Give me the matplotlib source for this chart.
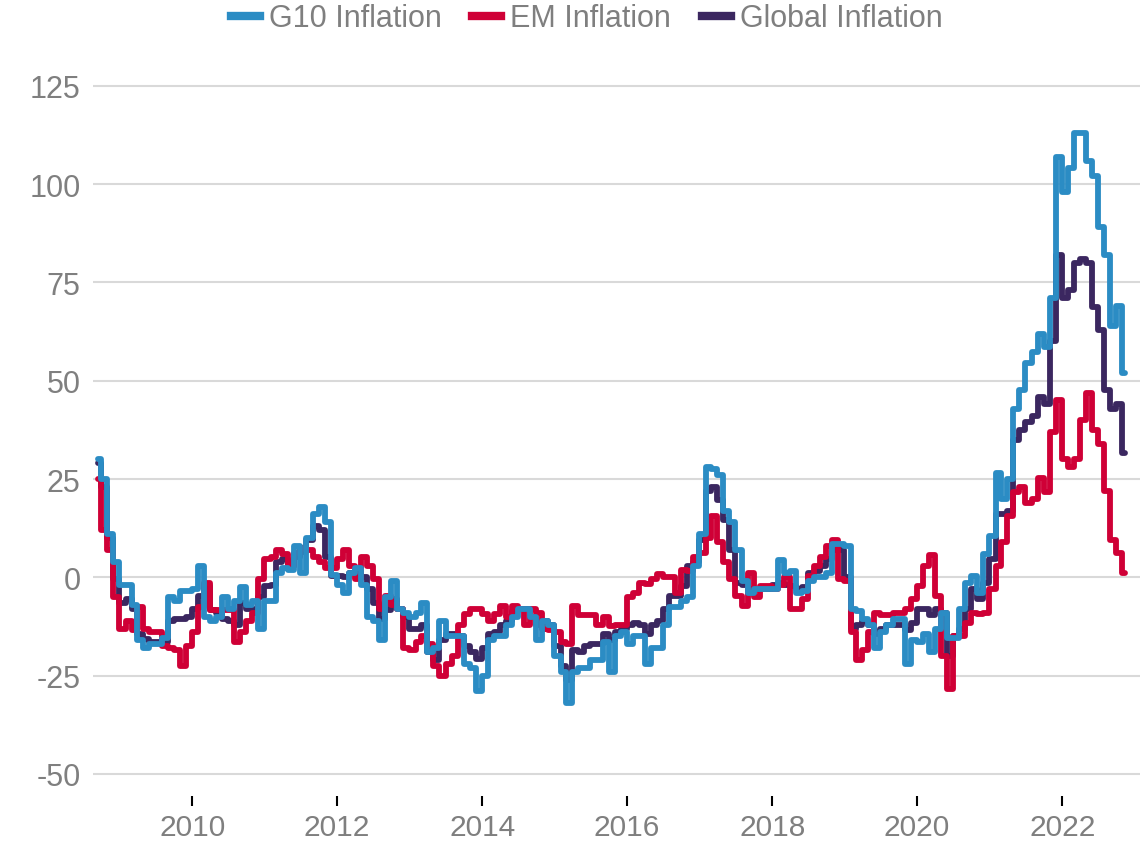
import matplotlib.pyplot as plt
import matplotlib.dates as mdates
from matplotlib.lines import Line2D
import pandas as pd

# monthly readings, Sep 2008 .. Nov 2022
start_month = '2008-09-01'
end_month = '2022-11-01'

g10 = [30, 25, 11, 4,
       -2, -2, -7, -16, -18, -17, -17, -15.5, -5, -6, -3.5, -3.5,
       -3, 3, -10, -11, -10, -5, -8, -6, -2.5, -7, -6, -13,
       -6, -6, 1, 2.5, 2, 8, 1, 10, 16, 18, 14, 0.5,
       -2, -4, 1, 2.5, -2, -10, -11, -16, -5, -1, -8, -9,
       -10, -9, -6.5, -19, -18, -11, -15, -15, -15, -22, -23, -29,
       -25, -16, -15, -15, -12, -10, -8, -8, -10, -16, -11, -12,
       -20, -24, -32, -24, -23, -23, -21, -21, -16.5, -24, -15, -14,
       -17, -15, -15, -22, -18, -18, -12, -7.5, -7.5, -6, -5, 3,
       11, 28, 27.5, 26, 17, 14, 7, -1, -4, -3, -3, -3,
       -3, 4.5, 1, 1.5, -4, -3.5, -1, 0, 0, 1, 8.5, 8.5,
       8, -8, -8.5, -10.5, -12, -18, -14, -12, -10.5, -10.5, -22, -16,
       -16.5, -14.5, -19, -13, -9, -15.5, -15.5, -8, -1.3, 0.3, -4, 6,
       10.4, 26.6, 20, 25, 42.7, 47.7, 54.6, 57.4, 62, 58.6, 71, 107,
       98, 104, 113, 113, 106, 102, 89, 82, 64, 69, 52]

em = [25, 12, 7, -5,
      -13, -11, -13.5, -7.5, -13, -14, -14, -17.5, -18, -18.5, -22.5, -17.5,
      -14, -7.5, -1.3, -8.4, -8.4, -8.4, -8.4, -16.5, -14, -11, -9, -0.5,
      4.6, 5.3, 7, 6, 3, 6.3, 7.4, 7, 5.3, 3.8, 2.5, 2.5,
      4.6, 7, 2.8, -0.5, 5.3, 2.8, -0.5, -8, -4.8, -7, -8, -18,
      -18.5, -16.5, -15, -17, -22.6, -25, -22, -20, -12, -9.4, -8, -8,
      -9.4, -11, -9.4, -7.4, -10, -7.4, -8, -12, -8, -9, -13, -13.5,
      -14, -16.5, -17, -7.4, -9.5, -9.5, -9.5, -12, -10, -12.4, -12, -12,
      -5, -3.9, -1.3, -1.8, -0.5, 0.8, 0, 0, -3.9, 1.8, 1.5, 5.3,
      6.3, 10, 15.5, 8.9, 3.8, -0.5, -4.8, -7.4, 1.2, -5, -2.3, -2.3,
      -3, -2, 0, -8, -8, -5.5, 0.3, 2.8, 5.3, 8, 9.6, -0.5,
      -1, -14, -21, -18.5, -14, -9, -9.5, -9.5, -9, -9, -8, -5.5,
      -2.3, 2.8, 5.8, -4.8, -20, -28.4, -15, -15, -11.5, -9, -9.4, -9,
      -3, 2.8, 8.9, 15.5, 21.6, 23, 19, 20, 25.4, 21.6, 37, 45,
      30, 28, 30, 40, 47, 37.5, 34, 22, 9.6, 6.3, 1.2]

glob = [29, 23, 10, -0.5,
        -6.4, -5.5, -8, -14.5, -15.7, -16.5, -16.5, -16.5, -11, -10.7, -10.7, -10,
        -8, -4.8, -2.3, -8.4, -9, -10.7, -11, -12, -6.4, -8, -8, -5,
        -2.3, -2, 3.8, 4.6, 3, 5.3, 6.5, 9.6, 13, 12, 5.3, 0.3,
        0.3, 0, 1.2, 1, 0, -3, -6.4, -10.7, -8.4, -5.5, -8, -10,
        -13, -13, -12, -19, -21, -16, -14.5, -14.5, -15, -17.5, -19, -20.8,
        -18, -14.5, -14, -12, -11, -8.5, -8, -8, -10, -12, -11, -12,
        -17.5, -22.6, -26, -18.5, -19, -17.5, -17, -17, -14.5, -16, -14, -13,
        -12, -11.5, -12, -14.5, -12, -11, -8, -4.8, -4.8, -2.3, 2.8, 4,
        9.6, 22, 23, 19.8, 14.7, 7, -1.3, -2, -3, -3, -3, -3,
        -2, -1.3, -2, -2.3, -3, -2.5, 1.2, 1.5, 2.8, 4.6, 7, 7,
        0, -13, -12, -11, -12, -14.5, -13, -12, -12, -12, -13.5, -11.5,
        -8, -8, -9.5, -8, -9, -20, -15, -13, -8, -3, -5.5, -1.3,
        4.6, 16, 16, 17, 35, 37.5, 39.6, 41, 46, 44, 60, 82,
        71, 73, 80, 81, 80, 68.8, 63, 47.7, 42.7, 44, 31.7]

labels = ['G10 Inflation', 'EM Inflation', 'Global Inflation']
colors = ['#2b8cc4', '#cf0036', '#3b2760']
y_ticks = [-50, -25, 0, 25, 50, 75, 100, 125]

plt.rcParams['font.family'] = ['Liberation Sans', 'DejaVu Sans']
grey = '#7f7f7f'

dates = pd.date_range(start_month, end_month, freq='MS') + pd.Timedelta(days=14)

fig = plt.figure(figsize=(11.48, 8.45), dpi=100)
ax = fig.add_axes([93 / 1148, 1 - 797 / 845, (1140 - 93) / 1148, (797 - 70) / 845])

line_kw = dict(lw=4.2, drawstyle='steps-mid', solid_joinstyle='round', solid_capstyle='round')
ax.plot(dates, glob, color=colors[2], zorder=3, **line_kw)
ax.plot(dates, em, color=colors[1], zorder=4, **line_kw)
ax.plot(dates, g10, color=colors[0], zorder=5, **line_kw)

ax.set_ylim(-55.6, 129.3)
ax.set_xlim(pd.Timestamp('2008-08-19'), pd.Timestamp('2023-01-28'))
ax.set_yticks(y_ticks)
ax.set_yticklabels([str(t) for t in y_ticks])
ax.yaxis.grid(True, color='#d9d9d9', lw=1.5)
ax.set_axisbelow(True)

ax.xaxis.set_major_locator(mdates.YearLocator(2))
ax.xaxis.set_major_formatter(mdates.DateFormatter('%Y'))

for s in ax.spines.values():
    s.set_visible(False)
ax.tick_params(axis='y', length=0, labelsize=22, labelcolor=grey, pad=9)
ax.tick_params(axis='x', length=7, width=1.5, color='black', direction='out',
               labelsize=21.5, labelcolor=grey, pad=5)

handles = [Line2D([0], [0], color=c, lw=6) for c in colors]
fig.legend(handles, labels, loc='center', bbox_to_anchor=(0.511, 0.977), ncol=3,
           frameon=False, fontsize=22, labelcolor=grey, handlelength=0.95,
           handletextpad=0.3, columnspacing=1.0, borderaxespad=0)

fig.savefig('out.png', dpi=100)
